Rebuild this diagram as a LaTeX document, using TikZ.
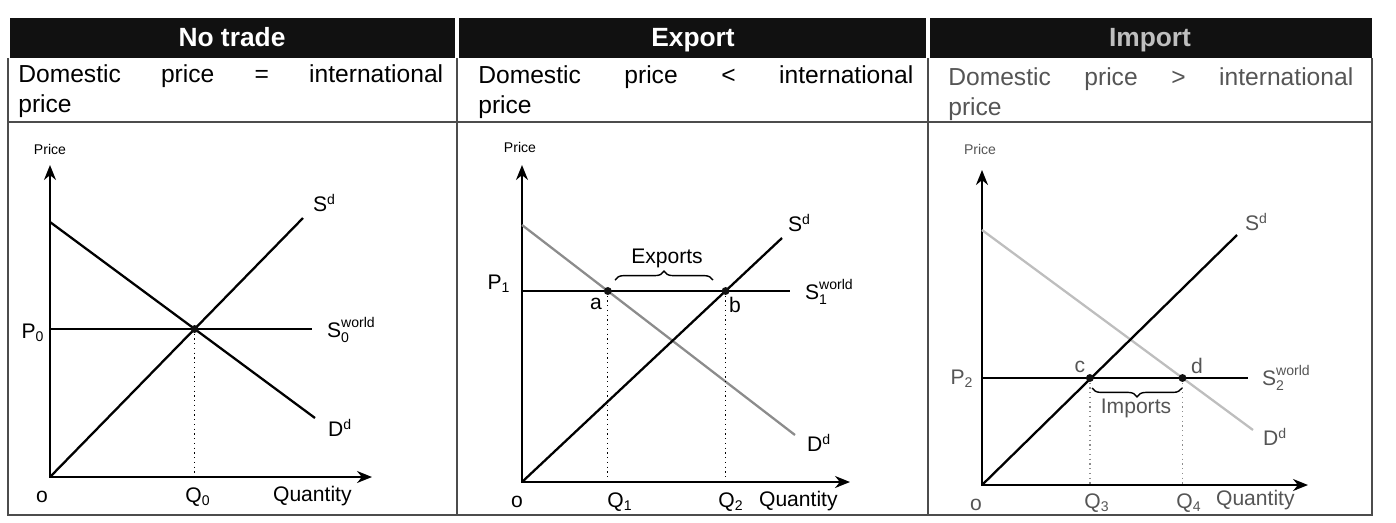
\documentclass[tikz,border=0pt]{standalone}
\usepackage{amsmath}
\usepackage{fontspec}
\setmainfont{Liberation Sans}
\usetikzlibrary{arrows.meta,positioning,decorations.pathreplacing}
\definecolor{ink}  {HTML}{111111}
\definecolor{fade} {HTML}{555555}
\definecolor{dgray}{HTML}{8C8C8C}
\definecolor{lgray}{HTML}{BEBEBE}
\tikzset{
  hdr/.style     ={fill=ink, draw=none},
  hdrtext/.style ={font=\fontsize{15}{18}\selectfont\bfseries, text=white,
                   inner sep=0pt, anchor=base},
  desc/.style    ={anchor=north west, inner sep=0pt, align=left,
                   font=\fontsize{14}{17.5}\selectfont},
  rule/.style    ={draw=ink!75, line width=0.6pt},
  axis/.style    ={{Stealth[length=3mm,width=2.4mm]}-{Stealth[length=3mm,width=2.4mm]},
                   line width=1.1pt},
  curve/.style   ={line width=1.3pt},
  wline/.style   ={line width=0.9pt},
  guide/.style   ={dotted, line width=0.7pt},
  lbl/.style     ={font=\fontsize{12}{14}\selectfont, inner sep=1pt},
  tiny/.style    ={font=\fontsize{8}{10}\selectfont, inner sep=1pt},
  pt/.style      ={circle, fill=ink, inner sep=0pt, minimum size=4.5pt},
  brc/.style     ={decorate, decoration={brace, amplitude=5pt}, line width=0.8pt},
}
\newcommand{\wsub}[2]{$\text{#1}_{\text{#2}}^{\text{world}}$}

\begin{document}
\begin{tikzpicture}[x=0.02cm,y=-0.02cm]
  \useasboundingbox (0,0) rectangle (1396,522);

  % table frame
  \fill[hdr] (10,18) rectangle (455,58);
  \fill[hdr] (459,18) rectangle (926,58);
  \fill[hdr] (930,18) rectangle (1372,58);
  \draw[rule] (8,58) -- (8,515) -- (1372,515) -- (1372,58);
  \draw[rule] (457,58) -- (457,515);
  \draw[rule] (928,58) -- (928,515);
  \draw[rule, line width=0.9pt] (8,122) -- (1372,122);

  \node[hdrtext] (h1) at (232,46) {No trade};
  \node[hdrtext] (h2) at (693,46) {Export};
  \node[hdrtext, text=white!75!black] (h3) at (1150,46) {Import};

  \node[desc] (t1) at (18,64)
    {\makebox[8.5cm][s]{Domestic price = international}\\price};
  \node[desc] (t2) at (478,65)
    {\makebox[8.7cm][s]{Domestic price < international}\\price};
  \node[desc, text=fade] (t3) at (948,67)
    {\makebox[8.1cm][s]{Domestic price > international}\\price};

  % no trade
  \coordinate (o1) at (50,477);
  \coordinate (ya1) at (50,165);
  \coordinate (xa1) at (372,477);
  \coordinate (d1s) at (50,222);   \coordinate (d1e) at (315,418);
  \coordinate (s1e) at (303,218);
  \coordinate (w1s) at (50,329);   \coordinate (w1e) at (312,329);
  \coordinate (e0) at (194.6,329); \coordinate (q0) at (194.6,477);
  \draw[axis] (ya1) -- (o1) -- (xa1);
  \draw[curve] (d1s) -- (d1e);
  \draw[curve] (o1) -- (s1e);
  \draw[wline] (w1s) -- (w1e);
  \draw[guide] (e0) -- (q0);
  \node[pt] (e0dot) at (e0) {};
  \node[tiny] (pr1) at (50,149) {Price};
  \node[lbl] (p0) at (33,333) {P\textsubscript{0}};
  \node[lbl] (o1l) at (42,497) {o};
  \node[lbl] (q0l) at (198,497) {Q\textsubscript{0}};
  \node[lbl, anchor=west] (qt1) at (271,496) {Quantity};
  \node[lbl, anchor=west] (sd1) at (311,203) {S\textsuperscript{d}};
  \node[lbl, anchor=west] (sw1) at (325,330) {\wsub{S}{0}};
  \node[lbl, anchor=west] (dd1) at (326,428) {D\textsuperscript{d}};

  % export
  \coordinate (o2) at (522,482);
  \coordinate (ya2) at (522,165);
  \coordinate (xa2) at (850,482);
  \coordinate (d2s) at (522,225);  \coordinate (d2e) at (795,435);
  \coordinate (s2e) at (782,238);
  \coordinate (w2s) at (522,291);  \coordinate (w2e) at (790,291);
  \coordinate (a) at (607.8,291);  \coordinate (qa) at (607.8,482);
  \coordinate (b) at (725.6,291);  \coordinate (qb) at (725.6,482);
  \draw[axis] (ya2) -- (o2) -- (xa2);
  \draw[curve, draw=dgray] (d2s) -- (d2e);
  \draw[curve] (o2) -- (s2e);
  \draw[wline] (w2s) -- (w2e);
  \draw[guide] (a) -- (qa);
  \draw[guide] (b) -- (qb);
  \node[pt] (adot) at (a) {};
  \node[pt] (bdot) at (b) {};
  \draw[brc] (615,280) -- (713,280);
  \node[lbl] (exp) at (667,258) {Exports};
  \node[tiny] (pr2) at (520,147) {Price};
  \node[lbl] (p1) at (499,284) {P\textsubscript{1}};
  \node[lbl] (o2l) at (517,502) {o};
  \node[lbl] (al) at (596,304) {a};
  \node[lbl] (bl) at (735,305) {b};
  \node[lbl] (q1l) at (620,502) {Q\textsubscript{1}};
  \node[lbl] (q2l) at (731,502) {Q\textsubscript{2}};
  \node[lbl, anchor=west] (qt2) at (757,501) {Quantity};
  \node[lbl, anchor=west] (sd2) at (786,223) {S\textsuperscript{d}};
  \node[lbl, anchor=west] (sw2) at (803,292) {\wsub{S}{1}};
  \node[lbl, anchor=west] (dd2) at (805,443) {D\textsuperscript{d}};

  % import
  \begin{scope}[text=fade]
  \coordinate (o3) at (982,485);
  \coordinate (ya3) at (982,170);
  \coordinate (xa3) at (1308,485);
  \coordinate (d3s) at (982,230);  \coordinate (d3e) at (1253,430);
  \coordinate (s3e) at (1237,235);
  \coordinate (w3s) at (982,378);  \coordinate (w3e) at (1248,378);
  \coordinate (c) at (1089.9,378); \coordinate (qc) at (1089.9,485);
  \coordinate (d) at (1182.5,378); \coordinate (qd) at (1182.5,485);
  \draw[axis] (ya3) -- (o3) -- (xa3);
  \draw[curve, draw=lgray] (d3s) -- (d3e);
  \draw[curve] (o3) -- (s3e);
  \draw[wline] (w3s) -- (w3e);
  \draw[guide, draw=dgray] (c) -- (qc);
  \draw[guide, draw=dgray] (d) -- (qd);
  \node[pt] (cdot) at (c) {};
  \node[pt] (ddot) at (d) {};
  \draw[brc] (1182,388) -- (1092,388);
  \node[lbl] (imp) at (1136,408) {Imports};
  \node[tiny] (pr3) at (980,149) {Price};
  \node[lbl] (p2) at (962,379) {P\textsubscript{2}};
  \node[lbl] (o3l) at (976,505) {o};
  \node[lbl] (cl) at (1080,367) {c};
  \node[lbl] (dl) at (1197,366) {d};
  \node[lbl] (q3l) at (1097,503) {Q\textsubscript{3}};
  \node[lbl] (q4l) at (1189,503) {Q\textsubscript{4}};
  \node[lbl, anchor=west] (qt3) at (1214,500) {Quantity};
  \node[lbl, anchor=west] (sd3) at (1243,222) {S\textsuperscript{d}};
  \node[lbl, anchor=west] (sw3) at (1260,378) {\wsub{S}{2}};
  \node[lbl, anchor=west] (dd3) at (1261,437) {D\textsuperscript{d}};
  \end{scope}
\end{tikzpicture}
\end{document}
